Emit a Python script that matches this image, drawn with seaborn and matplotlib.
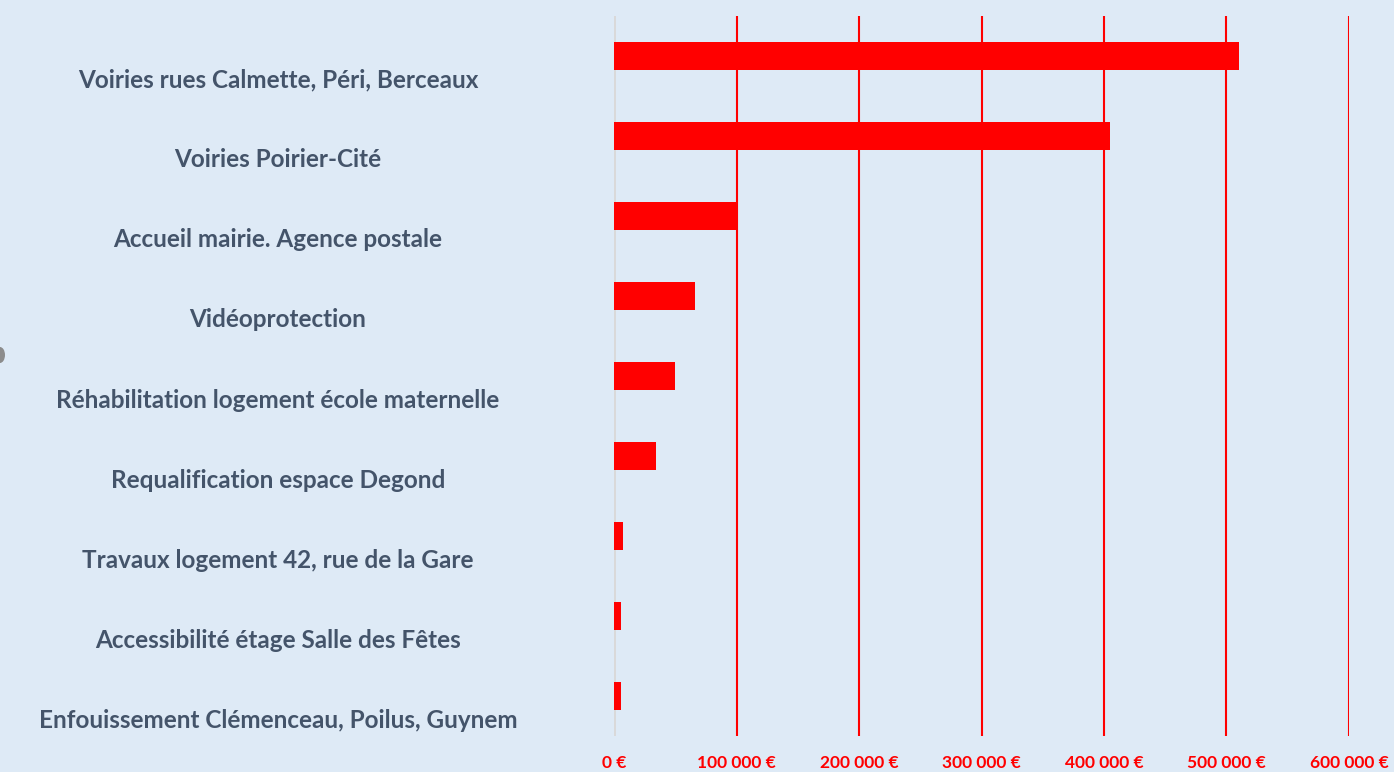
import matplotlib
matplotlib.use("Agg")
import matplotlib.pyplot as plt
import matplotlib.transforms as mtransforms
from matplotlib.patches import Ellipse
from matplotlib.ticker import FuncFormatter
import pandas as pd
import seaborn as sns

# data
projets = [
    "Voiries rues Calmette, Péri, Berceaux",
    "Voiries Poirier-Cité",
    "Accueil mairie. Agence postale",
    "Vidéoprotection",
    "Réhabilitation logement école maternelle",
    "Requalification espace Degond",
    "Travaux logement 42, rue de la Gare",
    "Accessibilité étage Salle des Fêtes",
    "Enfouissement Clémenceau, Poilus, Guynem",
]
montants = [510000, 405000, 100000, 66000, 50000, 34000, 7000, 6000, 5500]
x_ticks = [0, 100000, 200000, 300000, 400000, 500000, 600000]

df = pd.DataFrame({"projet": projets, "montant": montants})

bg = "#DEEAF6"
sns.set_style("white")
plt.rcParams["font.family"] = ["Lato", "DejaVu Sans"]

fig = plt.figure(figsize=(13.94, 7.72), dpi=100, facecolor=bg)
ax = fig.add_axes([0.4405, 0.0466, 0.5272, 0.9327])
ax.set_facecolor(bg)

sns.barplot(data=df, x="montant", y="projet", orient="h", color="#FF0000",
            width=0.35, saturation=1, linewidth=0, ax=ax, zorder=3)

ax.set_xlim(0, 600000)
ax.set_xticks(x_ticks)
ax.xaxis.set_major_formatter(FuncFormatter(
    lambda v, p: f"{int(v):,} €".replace(",", " ")))
ax.grid(axis="x", color="#FF0000", linewidth=1.5, zorder=0)
ax.grid(axis="y", visible=False)
ax.axvline(0, color="#D9D9D9", linewidth=2, zorder=1)
for s in ax.spines.values():
    s.set_visible(False)

ax.tick_params(axis="x", length=0, pad=14, labelcolor="#FF0000",
               labelsize=12.5)
for t in ax.get_xticklabels():
    t.set_fontweight("bold")

ax.set_xlabel("")
ax.set_ylabel("")
ax.tick_params(axis="y", length=0, pad=242, labelcolor="#44546A",
               labelsize=17.5)
offset = mtransforms.ScaledTranslation(0, -22 / 100, fig.dpi_scale_trans)
for t in ax.get_yticklabels():
    t.set_fontweight("bold")
    t.set_horizontalalignment("center")
    t.set_transform(t.get_transform() + offset)

# small grey mark on the left edge
fig.patches.append(Ellipse((0, 1 - 355 / 772), 10 / 1394, 16 / 772,
                           transform=fig.transFigure,
                           facecolor="#8C8C8C", edgecolor="none"))

fig.savefig("out.png", dpi=100, facecolor=bg)
